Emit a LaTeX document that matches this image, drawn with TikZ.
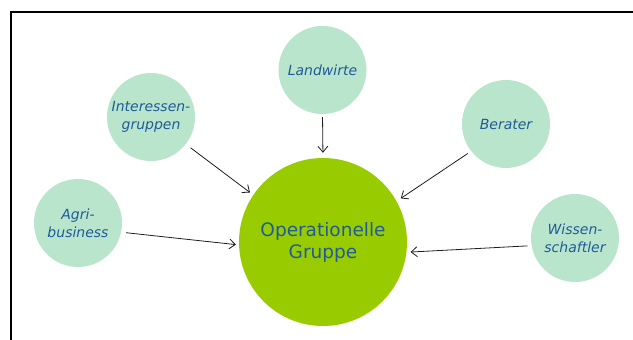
\documentclass[tikz,border=0pt]{standalone}
\usepackage{fontspec}
\setmainfont{DejaVu Sans}
\usetikzlibrary{arrows.meta}
\definecolor{txtblue}{RGB}{31,91,153}
\definecolor{mint}{RGB}{185,229,204}
\definecolor{bigGreen}{RGB}{153,204,0}
\definecolor{arrowcol}{RGB}{30,30,30}
\tikzset{
  small/.style={circle,fill=mint,draw=none,minimum size=88pt,inner sep=0pt,align=center,
    text=txtblue,font=\fontsize{14}{18}\selectfont\itshape},
  big/.style={circle,fill=bigGreen,draw=none,minimum size=168pt,inner sep=0pt,align=center,
    text=txtblue,font=\fontsize{18.5}{22}\selectfont},
  conn/.style={draw=arrowcol,line width=0.8pt,-{Straight Barb[length=6pt,width=10pt]}},
  frame/.style={draw=black,line width=2pt}
}
\begin{document}
\begin{tikzpicture}[x=1pt,y=-1pt]
\useasboundingbox (0,0) rectangle (633,340);
\draw[frame] (11,340) -- (11,12) -- (633,12);
\node[big] (og) at (323,242) {Operationelle\\Gruppe};
\node[small] (lw) at (322.5,70) {Landwirte};
\node[small] (ig) at (151,117) {Interessen-\\gruppen};
\node[small] (ag) at (78,223) {Agri-\\business};
\node[small] (be) at (506,124) {Berater};
\node[small] (wi) at (575,238) {Wissen-\\schaftler};
\draw[conn,shorten <=3pt,shorten >=5pt] (lw.south) -- (og.north);
\draw[conn,shorten <=6pt,shorten >=4pt] (ig.-38) -- (og.146);
\draw[conn,shorten <=5pt,shorten >=3pt] (ag.-12) -- (og.182);
\draw[conn,shorten <=4pt,shorten >=5pt] (be.218) -- (og.29);
\draw[conn,shorten <=4pt,shorten >=4pt] (wi.190) -- (og.-7);
\end{tikzpicture}
\end{document}
